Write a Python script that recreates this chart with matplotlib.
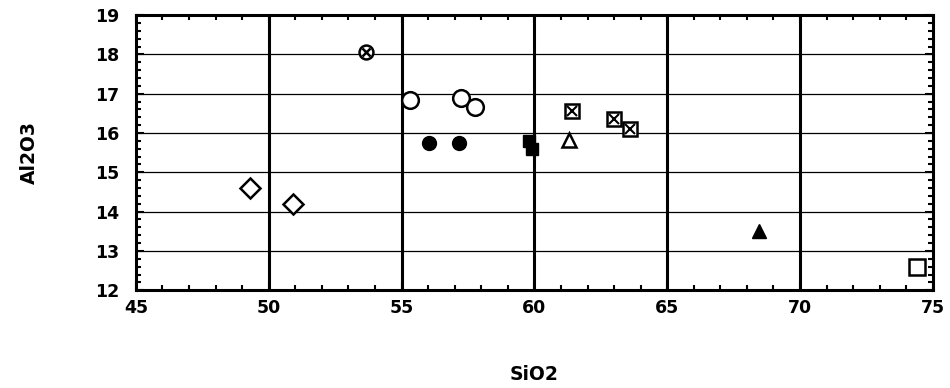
import matplotlib
matplotlib.use("Agg")
import matplotlib.pyplot as plt
from matplotlib.ticker import MultipleLocator

plt.rcParams['font.family'] = ['DejaVu Sans']
plt.rcParams['font.weight'] = 'bold'

# data, one list per symbol
diamond_x = [49.3, 50.9]
diamond_y = [14.6, 14.2]
otimes_x = [53.65]
otimes_y = [18.05]
ocircle_x = [55.3, 57.25, 57.75]
ocircle_y = [16.85, 16.9, 16.65]
fcircle_x = [56.05, 57.15]
fcircle_y = [15.75, 15.75]
fsquare_x = [59.8, 59.9]
fsquare_y = [15.8, 15.6]
boxx_x = [61.4, 63.0, 63.6]
boxx_y = [16.55, 16.35, 16.1]
otri_x = [61.3]
otri_y = [15.82]
ftri_x = [68.45]
ftri_y = [13.5]
osquare_x = [74.4]
osquare_y = [12.6]

xticks = [45, 50, 55, 60, 65, 70, 75]
yticks = [12, 13, 14, 15, 16, 17, 18, 19]

fig = plt.figure(figsize=(9.5, 3.88), dpi=100)
ax = fig.add_axes([0.143, 0.252, 0.839, 0.709])

ax.set_xlim(45, 75)
ax.set_ylim(12, 19)

# grid: heavy verticals, light horizontals
for v in xticks[1:-1]:
    ax.axvline(v, color='black', lw=2.2, zorder=1)
for h in yticks[1:-1]:
    ax.axhline(h, color='black', lw=0.9, zorder=1)

mk = dict(linestyle='none', color='black', zorder=3)
ax.plot(diamond_x, diamond_y, marker='D', ms=10, mfc='white', mew=1.8, **mk)
ax.plot(otimes_x, otimes_y, marker='o', ms=10, mfc='white', mew=1.8, **mk)
ax.plot(otimes_x, otimes_y, marker='x', ms=6, mew=1.8, **mk)
ax.plot(ocircle_x, ocircle_y, marker='o', ms=12, mfc='white', mew=1.8, **mk)
ax.plot(fcircle_x, fcircle_y, marker='o', ms=10, mfc='black', **mk)
ax.plot(fsquare_x, fsquare_y, marker='s', ms=9, mfc='black', **mk)
ax.plot(boxx_x, boxx_y, marker='s', ms=10, mfc='white', mew=1.8, **mk)
ax.plot(boxx_x, boxx_y, marker='x', ms=7, mew=1.5, **mk)
ax.plot(otri_x, otri_y, marker='^', ms=10, mfc='white', mew=1.8, **mk)
ax.plot(ftri_x, ftri_y, marker='^', ms=10, mfc='black', **mk)
ax.plot(osquare_x, osquare_y, marker='s', ms=12, mfc='white', mew=1.8, **mk)

ax.set_xticks(xticks)
ax.set_yticks(yticks)
ax.xaxis.set_minor_locator(MultipleLocator(1))
ax.yaxis.set_minor_locator(MultipleLocator(0.2))
ax.tick_params(which='both', direction='in', top=True, right=True, width=1.5)
ax.tick_params(which='major', length=6, labelsize=12.5)
ax.tick_params(which='minor', length=3.5)
ax.tick_params(axis='x', which='major', pad=6)
ax.tick_params(axis='y', which='major', pad=12)
for lab in ax.get_xticklabels() + ax.get_yticklabels():
    lab.set_fontweight('bold')

for s in ax.spines.values():
    s.set_linewidth(2.2)

ax.set_xlabel('SiO2', fontsize=13.5, fontweight='bold', labelpad=35)
ax.set_ylabel('Al2O3', fontsize=13.5, fontweight='bold', labelpad=40)

fig.savefig('out.png', dpi=100)
